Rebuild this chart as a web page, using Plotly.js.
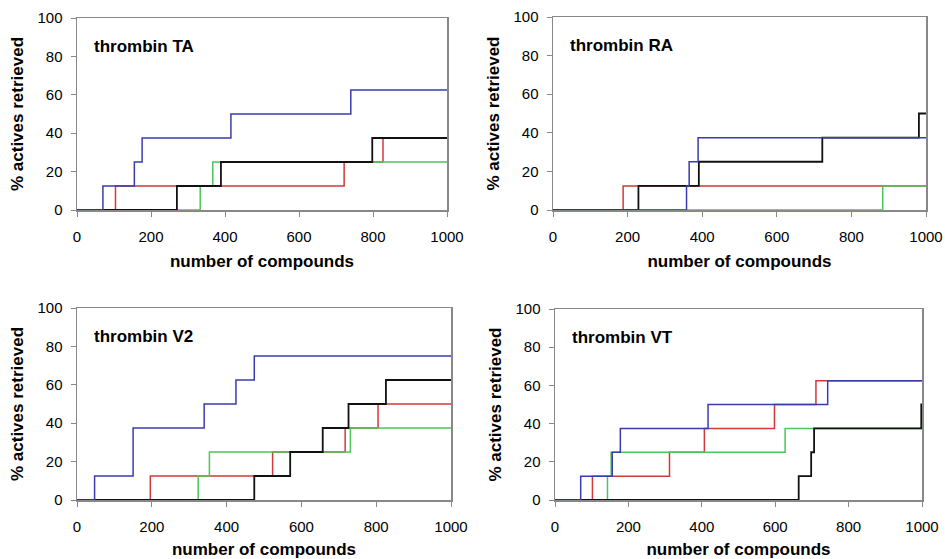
<!DOCTYPE html>
<html>
<head>
<meta charset="utf-8">
<script src="https://cdn.plot.ly/plotly-3.0.1.min.js"></script>
<style>html,body{margin:0;padding:0;background:#fff;}#chart{width:945px;height:559px;}</style>
</head>
<body>
<div id="chart"></div>
<script>
// Panel titles
const panelTitles = ["thrombin TA", "thrombin RA", "thrombin V2", "thrombin VT"];
const seriesColors = {blue: "#3b3bb0", red: "#d03a3a", green: "#4cc65a", black: "#111111"};
const xTicks = [0, 200, 400, 600, 800, 1000];
const yTicks = [0, 20, 40, 60, 80, 100];

// thrombin TA
const ta_blue_x  = [0, 70, 155, 176, 416, 740, 1000];
const ta_blue_y  = [0, 12.5, 25, 37.5, 50, 62.5, 62.5];
const ta_red_x   = [0, 104, 722, 827, 1000];
const ta_red_y   = [0, 12.5, 25, 37.5, 37.5];
const ta_green_x = [0, 333, 367, 1000];
const ta_green_y = [0, 12.5, 25, 25];
const ta_black_x = [0, 270, 389, 798, 1000];
const ta_black_y = [0, 12.5, 25, 37.5, 37.5];

// thrombin RA
const ra_blue_x  = [0, 358, 365, 389, 1000];
const ra_blue_y  = [0, 12.5, 25, 37.5, 37.5];
const ra_red_x   = [0, 188, 1000];
const ra_red_y   = [0, 12.5, 12.5];
const ra_green_x = [0, 884, 1000];
const ra_green_y = [0, 12.5, 12.5];
const ra_black_x = [0, 229, 391, 722, 981, 1000];
const ra_black_y = [0, 12.5, 25, 37.5, 50, 50];

// thrombin V2
const v2_blue_x  = [0, 47, 150, 340, 425, 474, 1000];
const v2_blue_y  = [0, 12.5, 37.5, 50, 62.5, 75, 75];
const v2_red_x   = [0, 196, 523, 717, 805, 1000];
const v2_red_y   = [0, 12.5, 25, 37.5, 50, 50];
const v2_green_x = [0, 324, 354, 731, 1000];
const v2_green_y = [0, 12.5, 25, 37.5, 37.5];
const v2_black_x = [0, 474, 570, 657, 726, 826, 1000];
const v2_black_y = [0, 12.5, 25, 37.5, 50, 62.5, 62.5];

// thrombin VT
const vt_blue_x  = [0, 70, 156, 178, 417, 743, 1000];
const vt_blue_y  = [0, 12.5, 25, 37.5, 50, 62.5, 62.5];
const vt_red_x   = [0, 102, 312, 407, 598, 711, 1000];
const vt_red_y   = [0, 12.5, 25, 37.5, 50, 62.5, 62.5];
const vt_green_x = [0, 143, 153, 627, 1000];
const vt_green_y = [0, 12.5, 25, 37.5, 37.5];
const vt_black_x = [0, 664, 698, 706, 998, 1000];
const vt_black_y = [0, 12.5, 25, 37.5, 50, 50];

const panels = [
  {red:[ta_red_x,ta_red_y], green:[ta_green_x,ta_green_y], black:[ta_black_x,ta_black_y], blue:[ta_blue_x,ta_blue_y]},
  {red:[ra_red_x,ra_red_y], green:[ra_green_x,ra_green_y], black:[ra_black_x,ra_black_y], blue:[ra_blue_x,ra_blue_y]},
  {red:[v2_red_x,v2_red_y], green:[v2_green_x,v2_green_y], black:[v2_black_x,v2_black_y], blue:[v2_blue_x,v2_blue_y]},
  {red:[vt_red_x,vt_red_y], green:[vt_green_x,vt_green_y], black:[vt_black_x,vt_black_y], blue:[vt_blue_x,vt_blue_y]}
];

const W = 945, H = 559;
// pixel boxes [left, right, top, bottom]
const boxes = [[77,447,18,210],[553,926,17,210],[77,451,308,500],[555,922,309,500]];

const data = [];
const layout = {
  width: W, height: H,
  margin: {l:0, r:0, t:0, b:0},
  paper_bgcolor: "#fff", plot_bgcolor: "#fff",
  showlegend: false,
  font: {family: "Liberation Sans, Arial, sans-serif", color: "#000"},
  annotations: []
};
const order = ["red","green","black","blue"];
panels.forEach((p, i) => {
  const n = i + 1;
  const xa = "x" + (n === 1 ? "" : n), ya = "y" + (n === 1 ? "" : n);
  order.forEach(c => {
    data.push({x: p[c][0], y: p[c][1], xaxis: xa, yaxis: ya, type: "scatter", mode: "lines",
      line: {shape: "hv", color: seriesColors[c], width: c === "black" ? 1.8 : 1.5}, hoverinfo: "skip"});
  });
  const b = boxes[i];
  const axCommon = {showgrid: false, zeroline: false, showline: true, mirror: true,
    linecolor: "#888", linewidth: 1.5, ticks: "outside", ticklen: 5, tickcolor: "#888", tickwidth: 1,
    tickfont: {size: 15, family: "Liberation Sans, Arial, sans-serif", color: "#000"}, fixedrange: true};
  layout["xaxis" + (n === 1 ? "" : n)] = Object.assign({}, axCommon, {
    domain: [b[0]/W, b[1]/W], anchor: ya, range: [0, 1000], tickvals: xTicks, ticktext: xTicks.map(String),
    ticklabelstandoff: 7,
    title: {text: "number of compounds", font: {size: 17, family: "Liberation Sans, Arial, sans-serif", weight: "bold"}, standoff: 11}
  });
  layout["yaxis" + (n === 1 ? "" : n)] = Object.assign({}, axCommon, {
    domain: [1 - b[3]/H, 1 - b[2]/H], anchor: xa, range: [0, 100], tickvals: yTicks, ticktext: yTicks.map(String),
    ticklabelstandoff: 5,
    title: {text: "% actives retrieved", font: {size: 17, family: "Liberation Sans, Arial, sans-serif", weight: "bold"}, standoff: 9}
  });
  layout.annotations.push({text: "<b>" + panelTitles[i] + "</b>", xref: xa + " domain", yref: ya + " domain",
    x: 0.04, y: 0.85, xanchor: "left", yanchor: "middle", showarrow: false,
    font: {size: 17, family: "Liberation Sans, Arial, sans-serif", color: "#000"}});
});
Plotly.newPlot("chart", data, layout, {staticPlot: true});
</script>
</body>
</html>
